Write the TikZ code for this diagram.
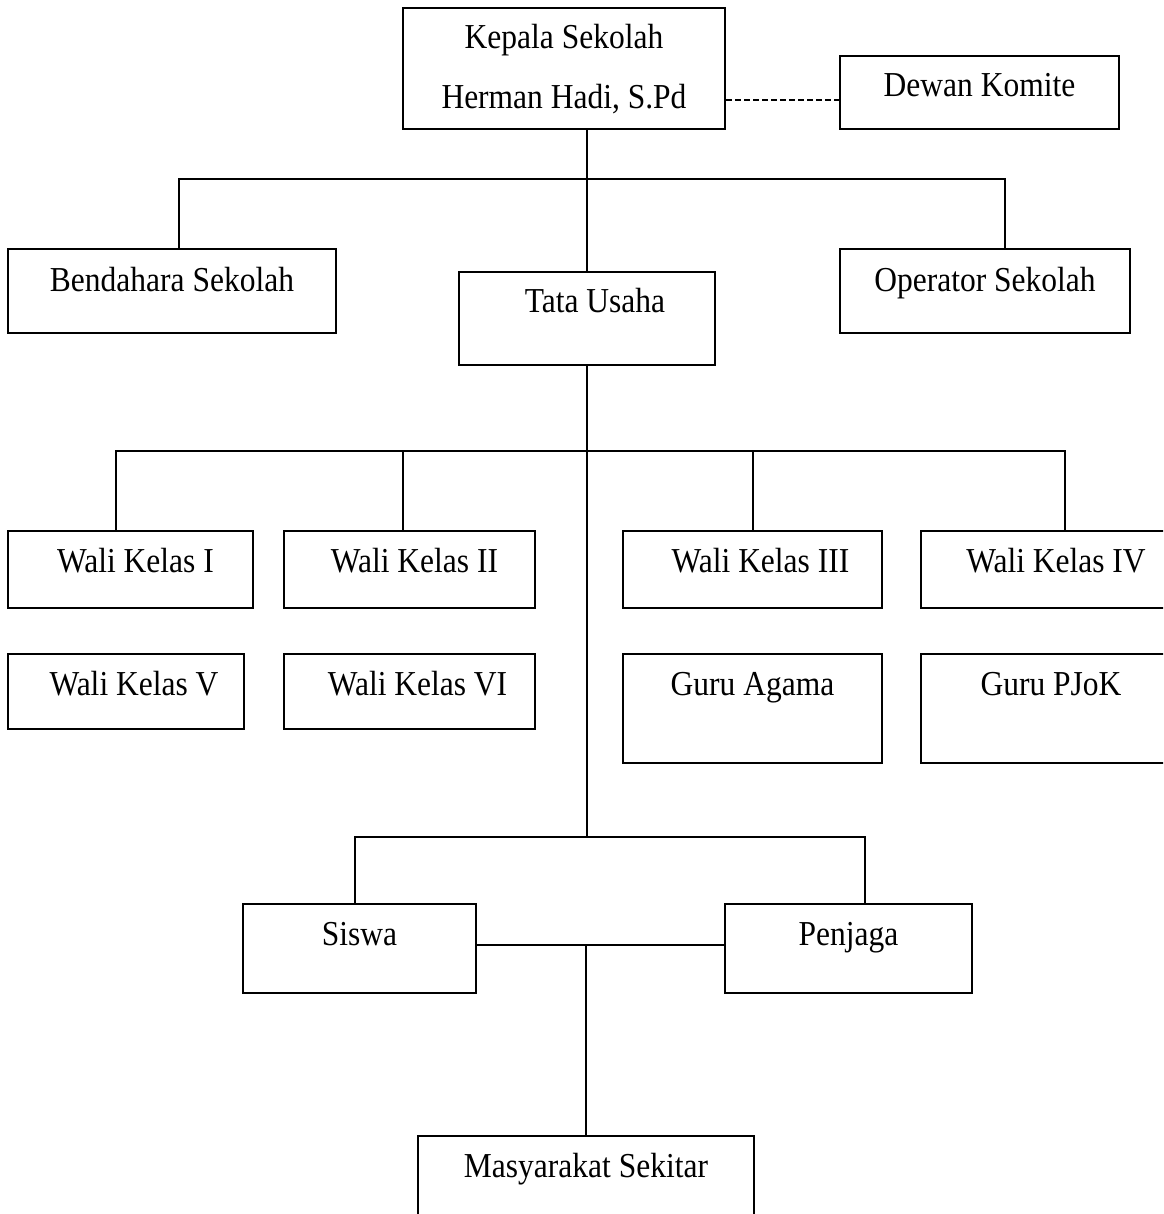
\documentclass[tikz,border=0pt]{standalone}
\usepackage{fontspec}
\setmainfont[FakeStretch=0.9]{Liberation Serif}
\begin{document}
\begin{tikzpicture}[
        x=0.5pt, y=-0.5pt,
        font=\fontsize{17.5}{30}\selectfont,
        kotak/.style={draw, line width=1pt, anchor=north west, inner sep=0pt, text height=20.5pt, align=center},
        garis/.style={line width=0.8pt},
        putus/.style={line width=1pt, dash pattern=on 3pt off 1.5pt}
    ]
        \useasboundingbox (0,0) rectangle (1163,1214);
        \clip (0,0) rectangle (1163,1214);

        % Pimpinan
        \node[kotak, minimum width=161pt, text height=50.5pt, text depth=10pt] (kepala) at (402,7) {Kepala Sekolah\\Herman Hadi, S.Pd};
        \node[kotak, minimum width=139.5pt, text depth=16pt] (dewan) at (839,55) {Dewan Komite};

        \node[kotak, minimum width=164pt, text height=21pt, text depth=21pt] (bendahara) at (7,248) {Bendahara Sekolah};
        \node[kotak, minimum width=128pt, text height=20pt, text depth=26.5pt] (tata) at (458,271) {\hspace{8pt}Tata Usaha};
        \node[kotak, minimum width=145pt, text height=21pt, text depth=21pt] (operator) at (839,248) {Operator Sekolah};

        % Guru
        \node[kotak, minimum width=122.5pt, text depth=18pt] (wali1) at (7,530) {\hspace{5pt}Wali Kelas I};
        \node[kotak, minimum width=125.5pt, text depth=18pt] (wali2) at (283,530) {\hspace{5pt}Wali Kelas II};
        \node[kotak, minimum width=129.5pt, text depth=18pt] (wali3) at (622,530) {\hspace{8pt}Wali Kelas III};
        \node[kotak, minimum width=130pt, text depth=18pt] (wali4) at (920,530) {\hspace{5pt}Wali Kelas IV};

        \node[kotak, minimum width=118pt, text depth=17pt] (wali5) at (7,653) {\hspace{8pt}Wali Kelas V};
        \node[kotak, minimum width=125.5pt, text depth=17pt] (wali6) at (283,653) {\hspace{8pt}Wali Kelas VI};
        \node[kotak, minimum width=129.5pt, text depth=34pt] (agama) at (622,653) {Guru Agama};
        \node[kotak, minimum width=130pt, text depth=34pt] (pjok) at (920,653) {Guru PJoK};

        % Siswa dan masyarakat
        \node[kotak, minimum width=116.5pt, text depth=24pt] (siswa) at (242,903) {Siswa};
        \node[kotak, minimum width=123.5pt, text depth=24pt] (penjaga) at (724,903) {Penjaga};
        \node[kotak, minimum width=168pt, text depth=40pt] (masyarakat) at (417,1135) {Masyarakat Sekitar};

        % Garis komando
        \coordinate (k1) at (179,179);
        \coordinate (k2) at (1005,179);
        \coordinate (komite) at (0,100);
        \draw[putus] (kepala.east |- komite) -- (dewan.west |- komite);
        \draw[garis] (kepala.south -| tata.north) -- (tata.north);
        \draw[garis] (k1 |- bendahara.north) -- (k1) -- (k2) -- (k2 |- operator.north);

        \coordinate (g1) at (116,451);
        \coordinate (g2) at (403,451);
        \coordinate (g3) at (753,451);
        \coordinate (g4) at (1065,451);
        \draw[garis] (g1 |- wali1.north) -- (g1) -- (g4) -- (g4 |- wali4.north);
        \draw[garis] (g2) -- (g2 |- wali2.north);
        \draw[garis] (g3) -- (g3 |- wali3.north);

        \coordinate (s1) at (355,837);
        \coordinate (s2) at (865,837);
        \draw[garis] (tata.south) -- (tata.south |- s1);
        \draw[garis] (s1 |- siswa.north) -- (s1) -- (s2) -- (s2 |- penjaga.north);

        \coordinate (m) at (0,945);
        \draw[garis] (siswa.east |- m) -- (penjaga.west |- m);
        \draw[garis] (masyarakat.north |- m) -- (masyarakat.north);

\end{tikzpicture}
\end{document}
